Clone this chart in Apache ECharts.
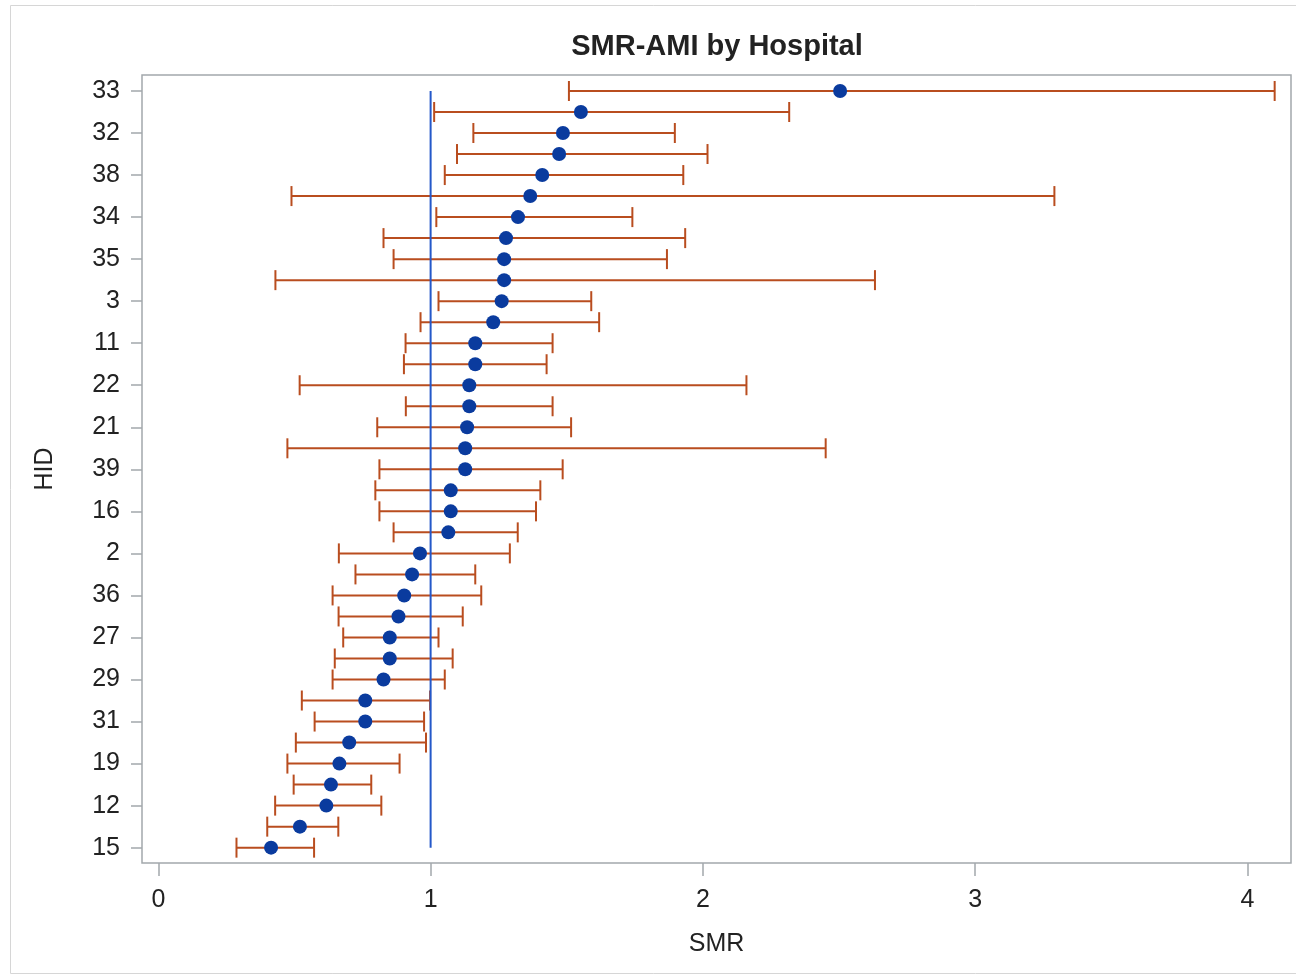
<!DOCTYPE html>
<html>
<head>
<meta charset="utf-8">
<script src="https://cdn.jsdelivr.net/npm/echarts@6/dist/echarts.min.js"></script>
<style>
  html, body { margin: 0; padding: 0; background: #fff; }
  #chart { width: 1296px; height: 978px; }
</style>
</head>
<body>
<div id="chart"></div>
<script>
// hospitals, top to bottom (only every other one is labelled)
const hospitals = ['33', '4', '32', '9', '38', '25', '34', '6', '35', '24', '3', '13',
  '11', '18', '22', '10', '21', '28', '39', '7', '16', '14', '2', '1', '36', '5',
  '27', '20', '29', '23', '31', '8', '19', '26', '12', '30', '15']

const smr = [2.504, 1.552, 1.486, 1.472, 1.410, 1.366, 1.321, 1.277, 1.270, 1.270,
  1.261, 1.230, 1.164, 1.164, 1.142, 1.142, 1.134, 1.127, 1.127, 1.074, 1.074,
  1.065, 0.961, 0.932, 0.903, 0.882, 0.850, 0.850, 0.827, 0.760, 0.760, 0.701,
  0.665, 0.634, 0.617, 0.520, 0.414]

const lower = [1.508, 1.013, 1.157, 1.097, 1.052, 0.489, 1.021, 0.827, 0.864, 0.430,
  1.029, 0.963, 0.908, 0.902, 0.519, 0.909, 0.804, 0.474, 0.812, 0.797, 0.812,
  0.864, 0.663, 0.724, 0.640, 0.662, 0.679, 0.648, 0.640, 0.527, 0.574, 0.505,
  0.474, 0.497, 0.429, 0.400, 0.287]

const upper = [4.100, 2.317, 1.897, 2.017, 1.928, 3.291, 1.741, 1.935, 1.868, 2.632,
  1.590, 1.619, 1.448, 1.426, 2.160, 1.448, 1.516, 2.451, 1.485, 1.403, 1.387,
  1.320, 1.291, 1.164, 1.186, 1.118, 1.029, 1.081, 1.052, 0.998, 0.976, 0.983,
  0.886, 0.782, 0.819, 0.661, 0.572]

const refValue = 1
const xTicks = [0, 1, 2, 3, 4]

const fontFamily = '"Liberation Sans", Arial, sans-serif'
const textColor = '#222'
const frameColor = '#a3a8ac'
const barColor = '#b94d1f'
const dotColor = '#0a3b9e'
const refColor = '#2458c9'

const rowIdx = hospitals.map((h, i) => i)
const labelledRows = rowIdx.filter(i => i % 2 === 0)

const chart = echarts.init(document.getElementById('chart'), null, { renderer: 'canvas' })

const option = {
  animation: false,
  backgroundColor: '#fff',
  title: {
    text: 'SMR-AMI by Hospital',
    left: 717,
    top: 32,
    padding: 0,
    textAlign: 'center',
    textStyle: { fontFamily, fontSize: 29, fontWeight: 'bold', color: textColor },
  },
  graphic: [
    {
      type: 'rect',
      shape: { x: 10.5, y: 5.5, width: 1300, height: 968 },
      style: { fill: 'none', stroke: '#d6d6d6', lineWidth: 1 },
      silent: true,
      z: -1,
    },
  ],
  grid: {
    left: 142,
    top: 75,
    right: 5,
    bottom: 115,
    show: true,
    borderColor: frameColor,
    borderWidth: 1.5,
  },
  xAxis: {
    type: 'value',
    min: -0.06,
    max: 4.16,
    name: 'SMR',
    nameLocation: 'middle',
    nameGap: 69,
    nameTextStyle: { fontFamily, fontSize: 25, color: textColor },
    axisLine: { show: false, onZero: false },
    splitLine: { show: false },
    axisTick: {
      show: true,
      length: 13,
      customValues: xTicks,
      lineStyle: { color: frameColor, width: 1.5 },
    },
    axisLabel: {
      customValues: xTicks,
      margin: 25,
      fontFamily,
      fontSize: 25,
      color: textColor,
    },
  },
  yAxis: {
    type: 'value',
    inverse: true,
    min: -0.76,
    max: 36.73,
    name: 'HID',
    nameLocation: 'middle',
    nameGap: 84,
    nameRotate: 90,
    nameTextStyle: { fontFamily, fontSize: 25, color: textColor },
    axisLine: { show: false, onZero: false },
    splitLine: { show: false },
    axisTick: {
      show: true,
      length: 11,
      customValues: labelledRows,
      lineStyle: { color: frameColor, width: 1.5 },
    },
    axisLabel: {
      customValues: labelledRows,
      formatter: v => hospitals[Math.round(v)],
      margin: 22,
      fontFamily,
      fontSize: 25,
      color: textColor,
    },
  },
  series: [
    {
      // confidence interval bars with end caps
      type: 'custom',
      data: rowIdx.map(i => [i, lower[i], upper[i]]),
      encode: { x: [1, 2], y: 0 },
      z: 2,
      renderItem: function (params, api) {
        const row = api.value(0)
        const lo = api.coord([api.value(1), row])
        const hi = api.coord([api.value(2), row])
        const cap = 10
        const style = { stroke: barColor, lineWidth: 2 }
        return {
          type: 'group',
          children: [
            { type: 'line', shape: { x1: lo[0], y1: lo[1], x2: hi[0], y2: hi[1] }, style },
            { type: 'line', shape: { x1: lo[0], y1: lo[1] - cap, x2: lo[0], y2: lo[1] + cap }, style },
            { type: 'line', shape: { x1: hi[0], y1: hi[1] - cap, x2: hi[0], y2: hi[1] + cap }, style },
          ],
        }
      },
    },
    {
      // reference line at SMR = 1
      type: 'line',
      data: [[refValue, 0], [refValue, hospitals.length - 1]],
      symbol: 'none',
      z: 3,
      lineStyle: { color: refColor, width: 2 },
    },
    {
      type: 'scatter',
      data: rowIdx.map(i => [smr[i], i]),
      symbol: 'circle',
      symbolSize: 14,
      z: 4,
      itemStyle: { color: dotColor, opacity: 1 },
    },
  ],
}

chart.setOption(option)
</script>
</body>
</html>
